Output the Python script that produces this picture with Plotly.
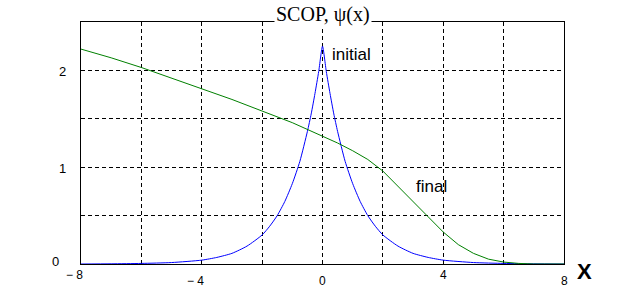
import plotly.graph_objects as go

# ---- data ----
x_initial = [-8, -7, -6, -5, -4, -3.5, -3, -2.5, -2, -1.75, -1.5, -1.25, -1, -0.75, -0.5, -0.375, -0.25, -0.125, 0,
             0.125, 0.25, 0.375, 0.5, 0.75, 1, 1.25, 1.5, 1.75, 2, 2.5, 3, 3.5, 4, 5, 6, 7, 8]
y_initial = [0.0, 0.002, 0.006, 0.015, 0.04, 0.068, 0.11, 0.185, 0.30, 0.39, 0.50, 0.645, 0.83, 1.06, 1.37, 1.55, 1.76, 1.99, 2.25,
             1.99, 1.76, 1.55, 1.37, 1.06, 0.83, 0.645, 0.50, 0.39, 0.30, 0.185, 0.11, 0.068, 0.04, 0.015, 0.006, 0.002, 0.0]

x_final = [-8, -7, -6, -5, -4, -3, -2, -1, 0, 0.5, 1, 1.5, 2, 2.5, 3, 3.5, 4, 4.5, 5, 5.5, 6, 6.5, 7, 8]
y_final = [2.22, 2.13, 2.03, 1.92, 1.81, 1.70, 1.58, 1.46, 1.32, 1.25, 1.17, 1.08, 0.96, 0.80, 0.64, 0.48,
           0.33, 0.20, 0.11, 0.05, 0.02, 0.006, 0.0, 0.0]

xtick_vals = [-8, -4, 0, 4, 8]
xtick_labels = ["\u2212 8", "\u2212 4", "0", "4", "8"]
xtick_row = [0, 1, 1, 0, 1]          # staggered rows as in the reference
ytick_vals = [2, 1, 0]
ytick_labels = ["2", "1", "0"]

title_text = "SCOP, \u03c8(x)"
curve_labels = [("initial", 0.95, 2.16), ("final", 3.6, 0.80)]
axis_name = "X"

fig = go.Figure()
fig.add_trace(go.Scatter(x=x_initial, y=y_initial, mode="lines",
                         line=dict(color="#0000FF", width=1, shape="spline", smoothing=0.6),
                         hoverinfo="skip"))
fig.add_trace(go.Scatter(x=x_final, y=y_final, mode="lines",
                         line=dict(color="#008000", width=1), hoverinfo="skip"))

ann = []
for v, t, r in zip(xtick_vals, xtick_labels, xtick_row):
    if v < 0:
        anchor, xs = "right", 4
    else:
        anchor, xs = "center", 0
    ann.append(dict(x=v, y=0, xref="x", yref="y", text=t, showarrow=False,
                    xanchor=anchor, yanchor="middle", xshift=xs,
                    yshift=-(11 + 6 * r),
                    font=dict(family="Liberation Sans, Arial", size=12, color="black")))
for v, t in zip(ytick_vals, ytick_labels):
    xs = -26 if v == 0 else -19
    ys = 3 if v == 0 else -1
    ann.append(dict(x=-8, y=v, xref="x", yref="y", text=t, showarrow=False,
                    xanchor="center", yanchor="middle", xshift=xs, yshift=ys,
                    font=dict(family="Liberation Sans, Arial", size=13, color="black")))
for t, xv, yv in curve_labels:
    ann.append(dict(x=xv, y=yv, xref="x", yref="y", text=t, showarrow=False,
                    xanchor="center", yanchor="middle",
                    font=dict(family="Liberation Sans, Arial", size=17, color="black")))
ann.append(dict(x=8, y=0, xref="x", yref="y", text="<b>" + axis_name + "</b>", showarrow=False,
                xanchor="center", yanchor="middle", xshift=20, yshift=-7,
                font=dict(family="Liberation Sans, Arial", size=22, color="black")))
ann.append(dict(x=0, y=2.5, xref="x", yref="y", text=title_text, showarrow=False,
                xanchor="center", yanchor="middle", yshift=8, bgcolor="white",
                borderpad=1,
                font=dict(family="Liberation Serif, Times New Roman", size=20, color="black")))

fig.update_layout(
    width=624, height=298,
    margin=dict(l=81, r=60, t=22, b=34),
    paper_bgcolor="white", plot_bgcolor="white",
    showlegend=False,
    hovermode=False,
    annotations=ann,
    xaxis=dict(range=[-8, 8], dtick=2, tick0=-8, showticklabels=False, ticks="",
               showgrid=True, gridcolor="black", gridwidth=1, griddash="4px,3px",
               zeroline=False, showline=True, linecolor="black", linewidth=1, mirror=True),
    yaxis=dict(range=[0, 2.5], dtick=0.5, tick0=0, showticklabels=False, ticks="",
               showgrid=True, gridcolor="black", gridwidth=1, griddash="4px,3px",
               zeroline=False, showline=True, linecolor="black", linewidth=1, mirror=True),
)

fig.write_html("out.html",
               config={"displayModeBar": False},
               post_script="document.body.style.margin='0';document.body.style.overflow='hidden';")
